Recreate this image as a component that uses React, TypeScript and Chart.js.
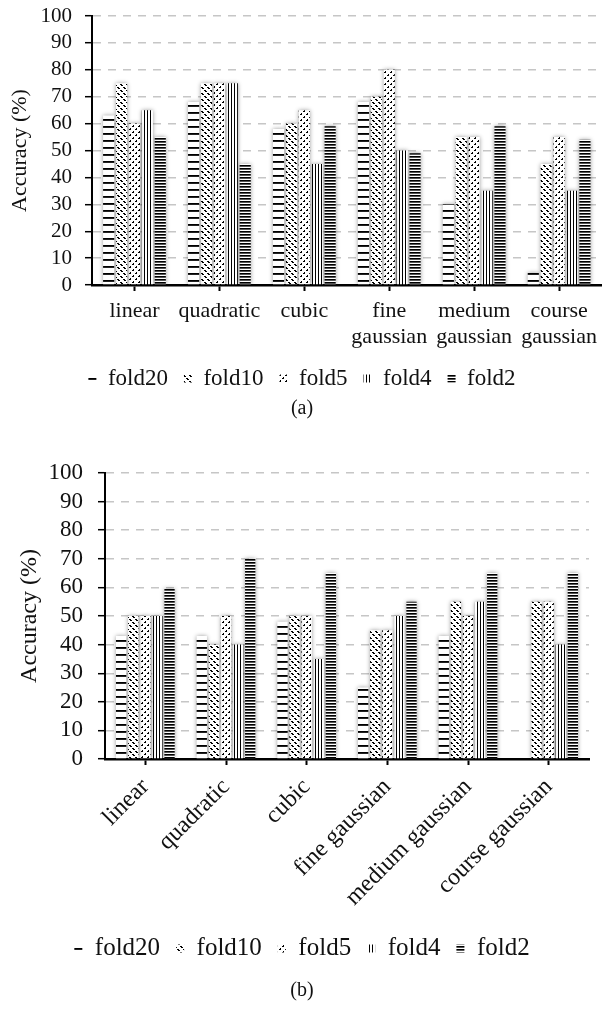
import { useEffect, useRef } from 'react';
import { Chart, registerables } from 'chart.js';

Chart.register(...registerables);

const SERIF = 'Liberation Serif';
Chart.defaults.font.family = SERIF;

// ---------- data ----------
const seriesNames = ['fold20', 'fold10', 'fold5', 'fold4', 'fold2'];

const categoriesA = ['linear', 'quadratic', 'cubic', ['fine', 'gaussian'], ['medium', 'gaussian'], ['course', 'gaussian']];
const fold20A = [63, 68, 58, 68, 30, 4.5];
const fold10A = [75, 75, 60, 70, 55, 45];
const fold5A = [60, 75, 65, 80, 55, 55];
const fold4A = [65, 75, 45, 50, 35, 35];
const fold2A = [55, 45, 59, 49, 59, 54];

const categoriesB = ['linear', 'quadratic', 'cubic', 'fine gaussian', 'medium gaussian', 'course gaussian'];
const fold20B = [43, 43, 48, 25, 43, 0];
const fold10B = [50, 40, 50, 45, 55, 55];
const fold5B = [50, 50, 50, 45, 50, 55];
const fold4B = [50, 40, 35, 50, 55, 40];
const fold2B = [59.5, 70, 65, 55, 65, 65];

const yTickStep = 10;
const yMin = 0;
const yMax = 100;
const yTitle = 'Accuracy (%)';

// ---------- patterns ----------
type PixFn = (x: number, y: number) => string | null;
function makePattern(w: number, h: number, fn: PixFn): CanvasPattern {
  const c = document.createElement('canvas');
  c.width = w;
  c.height = h;
  const g = c.getContext('2d')!;
  g.fillStyle = '#fff';
  g.fillRect(0, 0, w, h);
  for (let y = 0; y < h; y++) {
    for (let x = 0; x < w; x++) {
      const v = fn(x, y);
      if (v) {
        g.fillStyle = v;
        g.fillRect(x, y, 1, 1);
      }
    }
  }
  return g.createPattern(c, 'repeat')!;
}

function patterns(): CanvasPattern[] {
  return [
    // fold20: wide horizontal dashes
    makePattern(4, 7, (x, y) => (y === 0 ? '#000' : y === 1 ? '#222' : null)),
    // fold10: downward diagonal dashes
    makePattern(6, 6, (x, y) => {
      const d = (x - y + 12) % 6;
      const a = (x + y) % 6;
      return d < 2 && a < 4 ? '#000' : null;
    }),
    // fold5: upward diagonal dashes
    makePattern(6, 6, (x, y) => {
      const d = (x + y) % 6;
      const a = (x - y + 12) % 6;
      return d < 2 && a < 3 ? '#000' : null;
    }),
    // fold4: narrow vertical lines
    makePattern(3, 1, (x) => (x === 0 ? '#000' : null)),
    // fold2: dense horizontal lines
    makePattern(1, 3, (_x, y) => (y === 0 ? '#000' : y === 1 ? '#555' : null)),
  ];
}

const shadowPlugin = {
  id: 'barShadow',
  beforeDatasetsDraw(chart: any) {
    const ctx = chart.ctx;
    ctx.save();
    ctx.shadowColor = 'rgba(0,0,0,0.4)';
    ctx.shadowBlur = 4;
    ctx.shadowOffsetX = 0;
    ctx.shadowOffsetY = 0;
  },
  afterDatasetsDraw(chart: any) {
    chart.ctx.restore();
  },
};

interface Cfg {
  labels: any[];
  values: number[][];
  tickSize: number;
  labelSize: number;
  legendSize: number;
  titleSize: number;
  titlePad: number;
  yWidth: number;
  xHeight: number;
  xPad: number;
  padTop: number;
  padRight: number;
  padLeft: number;
  rotate: number;
  catPct: number;
  barPct: number;
  yTickLen: number;
  tickPad: number;
}

function buildChart(canvas: HTMLCanvasElement, cfg: Cfg) {
  const pats = patterns();
  const markLen = 7;
  return new Chart(canvas, {
    type: 'bar',
    data: {
      labels: cfg.labels,
      datasets: seriesNames.map((name, i) => ({
        label: name,
        data: cfg.values[i],
        backgroundColor: pats[i],
        borderWidth: 0,
        categoryPercentage: cfg.catPct,
        barPercentage: cfg.barPct,
      })),
    },
    options: {
      animation: false,
      responsive: false,
      layout: { padding: { top: cfg.padTop, right: cfg.padRight, left: cfg.padLeft, bottom: 0 } },
      plugins: {
        tooltip: { enabled: false },
        legend: {
          position: 'bottom',
          labels: {
            font: { family: SERIF, size: cfg.legendSize },
            color: '#111',
            boxWidth: 8,
            boxHeight: 8,
            padding: 16,
          },
        },
      },
      scales: {
        x: {
          afterFit: (s: any) => {
            s.height = cfg.xHeight;
          },
          grid: {
            drawOnChartArea: false,
            offset: false,
            tickLength: 6,
            tickColor: '#000',
            tickWidth: 2,
          },
          border: { color: '#000', width: 2.5 },
          ticks: {
            font: { family: SERIF, size: cfg.labelSize },
            color: '#111',
            padding: cfg.xPad,
            autoSkip: false,
            minRotation: cfg.rotate,
            maxRotation: cfg.rotate,
          },
        },
        y: {
          min: yMin,
          max: yMax,
          afterFit: (s: any) => {
            s.width = cfg.yWidth;
          },
          grid: {
            color: '#c6c6c6',
            lineWidth: 1.4,
            tickColor: '#000',
            tickWidth: 1.5,
            tickLength: cfg.yTickLen,
            tickBorderDash: [markLen, cfg.yTickLen - markLen],
            tickBorderDashOffset: markLen,
          },
          border: { color: '#000', width: 2, dash: [8, 7] },
          ticks: {
            stepSize: yTickStep,
            autoSkip: false,
            font: { family: SERIF, size: cfg.tickSize },
            color: '#111',
            padding: cfg.tickPad,
          },
          title: {
            display: true,
            text: yTitle,
            font: { family: SERIF, size: cfg.titleSize },
            color: '#111',
            padding: { top: cfg.titlePad, bottom: 0 },
          },
        },
      },
    },
    plugins: [shadowPlugin],
  } as any);
}

export default function App() {
  const refA = useRef<HTMLCanvasElement>(null);
  const refB = useRef<HTMLCanvasElement>(null);

  useEffect(() => {
    const a = buildChart(refA.current!, {
      labels: categoriesA,
      values: [fold20A, fold10A, fold5A, fold4A, fold2A],
      tickSize: 21,
      labelSize: 22,
      legendSize: 23,
      titleSize: 22,
      titlePad: 7,
      yWidth: 92,
      xHeight: 66,
      xPad: 7,
      padTop: 16,
      padRight: 0,
      padLeft: 0,
      rotate: 0,
      catPct: 0.76,
      barPct: 0.86,
      yTickLen: 18,
      tickPad: 2,
    });
    const b = buildChart(refB.current!, {
      labels: categoriesB,
      values: [fold20B, fold10B, fold5B, fold4B, fold2B],
      tickSize: 23,
      labelSize: 24,
      legendSize: 25,
      titleSize: 24,
      titlePad: 0,
      yWidth: 90,
      xHeight: 161,
      xPad: 8,
      padTop: 43,
      padRight: 15,
      padLeft: 15,
      rotate: 45,
      catPct: 0.75,
      barPct: 0.85,
      yTickLen: 21,
      tickPad: 1,
    });
    return () => {
      a.destroy();
      b.destroy();
    };
  }, []);

  const cap: any = {
    position: 'absolute',
    left: 0,
    width: 604,
    textAlign: 'center',
    fontFamily: SERIF,
    fontSize: 20,
    color: '#111',
  };

  return (
    <div style={{ position: 'absolute', left: 0, top: 0, width: 604, height: 1014, background: '#fff', overflow: 'hidden' }}>
      <canvas ref={refA} width={604} height={400} style={{ position: 'absolute', left: 0, top: 0 }} />
      <div style={{ ...cap, top: 396 }}>(a)</div>
      <canvas ref={refB} width={604} height={541} style={{ position: 'absolute', left: 0, top: 430 }} />
      <div style={{ ...cap, top: 978 }}>(b)</div>
    </div>
  );
}
